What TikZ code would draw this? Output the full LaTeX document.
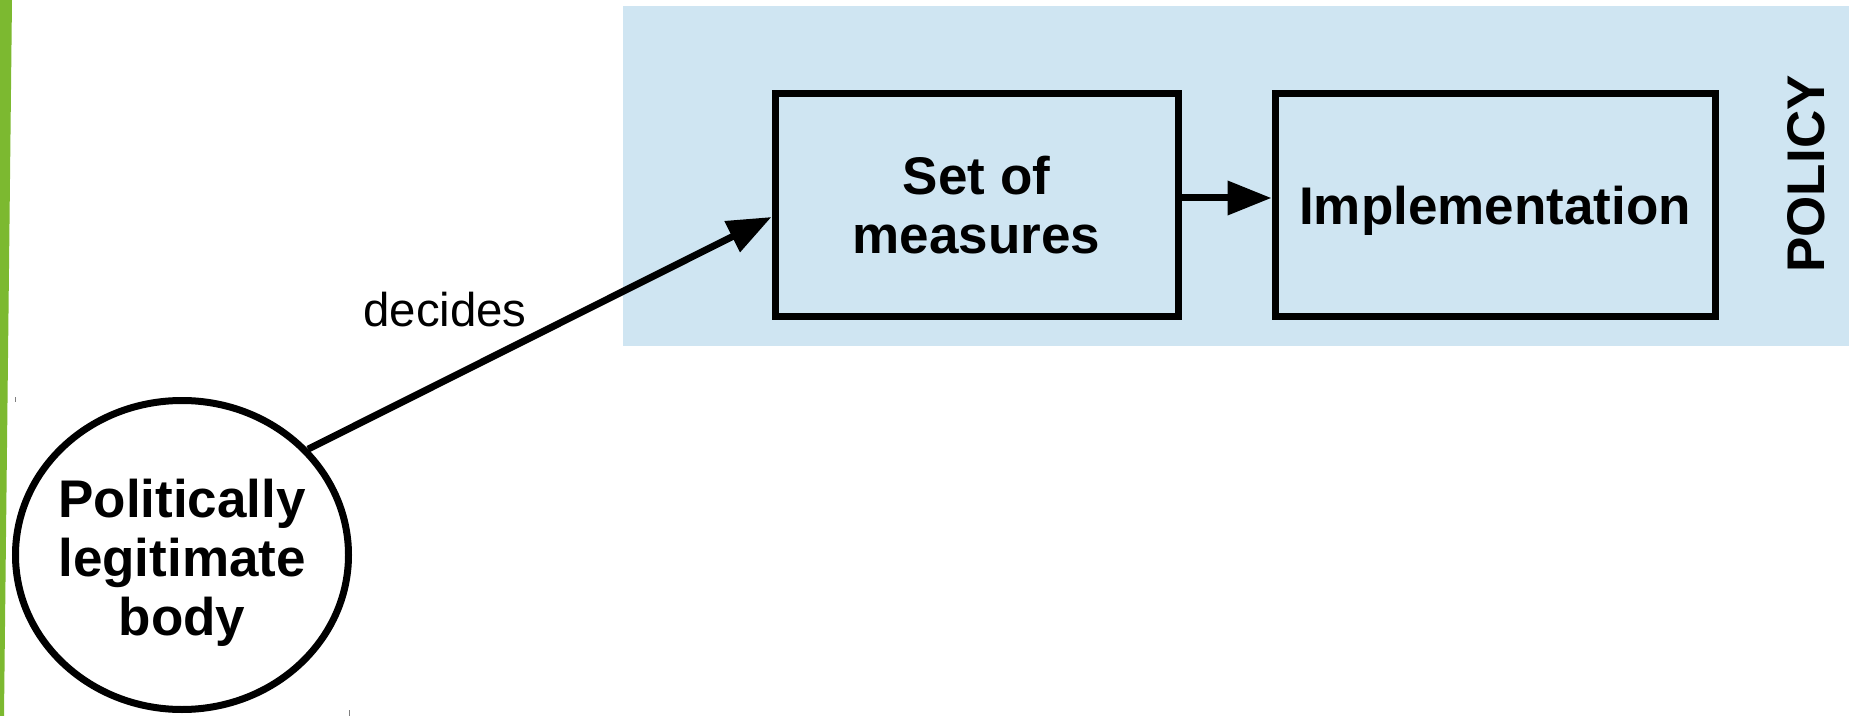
\documentclass[tikz,border=0pt]{standalone}
\usepackage{fontspec}
\setmainfont{Liberation Sans}
\usetikzlibrary{shapes.geometric,arrows.meta}
\definecolor{policyblue}{RGB}{207,229,242}
\definecolor{bargreen}{RGB}{124,185,48}

\begin{document}
\begin{tikzpicture}[x=0.5pt,y=-0.5pt,
  bigtext/.style={font=\fontsize{26.5}{29.5}\selectfont\bfseries},
  box/.style={draw,line width=3.5pt,minimum height=111.75pt,align=center,inner sep=0pt,bigtext},
  arr/.style={line width=3.5pt,-{Triangle[length=22pt,width=16.5pt]}}]
\useasboundingbox (0,0) rectangle (1856,716);
\fill[bargreen] (0,0) -- (12,0) -- (4,716) -- (0,716) -- cycle;
\fill[policyblue] (623,6) rectangle (1849,346);
\draw[gray,thin] (15,397) -- (15,402);
\draw[gray,thin] (349,710) -- (349,716);

% the two steps of the policy
\node[box,minimum width=201.5pt] (measures) at (976.5,205) {Set of\\measures};
\node[box,minimum width=220pt,text height=25pt,text depth=5.6pt] (impl) at (1495,205) {Implementation};
\node[rotate=90,bigtext] (policy) at (1806,174) {POLICY};

% who decides
\node[ellipse,draw,line width=3.5pt,fill=white,minimum width=166.5pt,minimum height=154.5pt] (body) at (182,555) {};
\node[bigtext,align=center] (bodytext) at ([yshift=-4pt]body.center) {Politically\\legitimate\\body};

\draw[arr] (body.40) -- ([yshift=-6pt]measures.west);
\node[anchor=base,font=\fontsize{23.7}{28}\selectfont] (decides) at (445,327) {decides};
\draw[arr] ([yshift=3.5pt]measures.east) -- ([yshift=3.5pt]impl.west);
\end{tikzpicture}
\end{document}
